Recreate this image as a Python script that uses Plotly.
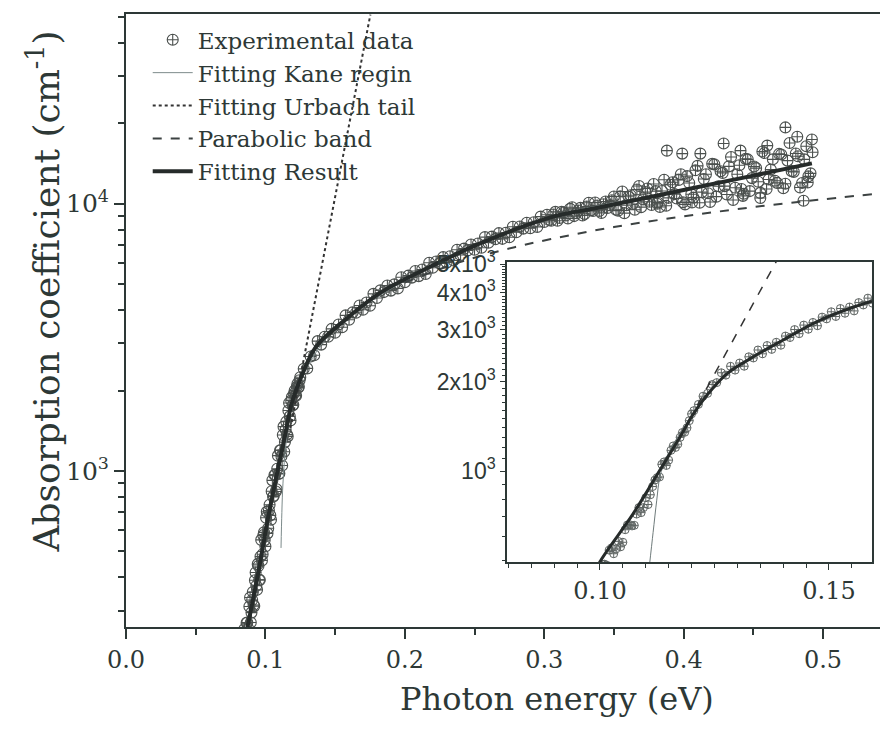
import plotly.graph_objects as go

# ---------------- main panel data ----------------
exp_energy_a = [0.085,0.086,0.087,0.088,0.089,0.090,0.091,0.092,0.093,0.094,0.095,0.096,0.097,0.098,0.099,0.100,
                0.101,0.102,0.103,0.104,0.105,0.106,0.107,0.108,0.109,0.110,0.111,0.112,0.113,0.114,0.115,0.116,
                0.117,0.118,0.119,0.120,0.121,0.122,0.123,0.124,0.125]
exp_alpha_a = [256,221,271,238,336,295,352,312,417,359,441,391,552,488,589,522,
               703,610,747,657,922,808,967,854,1141,979,1195,1048,1465,1282,1529,1347,
               1795,1545,1889,1769,2000,1911,2118,2064,2242]
exp_energy_b = [0.0855,0.0865,0.0875,0.0885,0.0895,0.0905,0.0915,0.0925,0.0935,0.0945,0.0955,0.0965,0.0975,0.0985,
                0.0995,0.1005,0.1015,0.1025,0.1035,0.1045,0.1055,0.1065,0.1075,0.1085,0.1095,0.1105,0.1115,0.1125,
                0.1135,0.1145,0.1155,0.1165,0.1175,0.1185,0.1195,0.1205,0.1215,0.1225,0.1235,0.1245]
exp_alpha_b = [219,270,258,311,271,329,315,390,372,448,391,478,462,575,
               551,668,584,711,682,840,801,965,838,1019,974,1194,1136,1363,
               1180,1430,1368,1683,1600,1835,1757,1949,1918,2063,2050,2185]
exp_energy_c = [0.1275,0.130,0.1325,0.135,0.1375,0.140,0.1425,0.145,0.1475,0.150,0.1525,0.155,0.1575,0.160,
                0.1625,0.165,0.1675,0.170,0.1725,0.175,0.1775,0.180,0.1825,0.185,0.1875,0.190,0.1925,0.195,
                0.1975,0.200,0.2025,0.205,0.2075,0.210,0.2125,0.215,0.2175,0.220,0.2225,0.225,0.2275,0.230,
                0.2325,0.235,0.2375,0.240,0.2425,0.245,0.2475,0.250,0.2525,0.255,0.2575,0.260,0.2625,0.265,
                0.2675,0.270,0.2725,0.275,0.2775,0.280,0.2825,0.285,0.2875,0.290,0.2925,0.295,0.2975,0.300]
exp_alpha_c = [2410,2420,2680,2710,3060,2970,3180,3180,3400,3290,3530,3450,3820,3680,
               3920,3910,4160,4010,4270,4150,4600,4440,4740,4670,4940,4730,4990,4820,
               5310,5080,5380,5290,5600,5360,5670,5460,6010,5760,6080,5980,6310,6020,
               6360,6130,6730,6430,6790,6680,7040,6730,7100,6840,7500,7150,7530,7370,
               7760,7390,7790,7490,8200,7820,8220,8070,8490,8090,8520,8190,8950,8540]
exp_energy_d = [0.302,0.305,0.308,0.311,0.314,0.317,0.320,0.323,0.326,0.329,0.332,0.335,0.338,0.341,0.344,0.347,
                0.350,0.353,0.356,0.359,0.362,0.365,0.368,0.371,0.374,0.377,0.380,0.383,0.386,0.389,0.392,0.395,
                0.398,0.401,0.404,0.407,0.410,0.413,0.416,0.419,0.422,0.425,0.428,0.431,0.434,0.437,0.440,0.443,
                0.446,0.449,0.452,0.455,0.458,0.461,0.464,0.467,0.470,0.473,0.476,0.479,0.482,0.485,0.488,0.491]
exp_alpha_d = [9090,8630,9320,8850,9280,8800,9700,9210,9650,9160,10080,9390,9850,9240,10190,9870,
               10640,9420,11110,9870,10760,9500,11650,10380,11400,9890,11150,9720,12290,10520,12040,10460,
               12890,9940,11950,10540,13860,11050,12890,10150,14040,11630,13040,10830,14950,11480,13930,10900,
               14650,12470,13590,10980,15480,12320,14660,11970,15280,11880,16870,13160,15050,11960,16400,12990]
exp_energy_e = [0.3035,0.3065,0.3095,0.3125,0.3155,0.3185,0.3215,0.3245,0.3275,0.3305,0.3335,0.3365,0.3395,0.3425,
                0.3455,0.3485,0.3515,0.3545,0.3575,0.3605,0.3635,0.3665,0.3695,0.3725,0.3755,0.3785,0.3815,0.3845,
                0.3875,0.3905,0.3935,0.3965,0.3995,0.4025,0.4055,0.4085,0.4115,0.4145,0.4175,0.4205,0.4235,0.4265,
                0.4295,0.4325,0.4355,0.4385,0.4415,0.4445,0.4475,0.4505,0.4535,0.4565,0.4595,0.4625,0.4655,0.4685,
                0.4715,0.4745,0.4775,0.4805,0.4835,0.4865,0.4895,0.4925]
exp_alpha_e = [8690,9110,8640,9330,9040,9570,8990,9430,9030,9760,9450,10100,9400,9960,
               9640,10310,9490,10660,9220,10620,9980,11300,9710,11050,10170,11850,10110,11160,
               9830,11770,10860,12280,10120,12690,10850,13340,10080,12380,10940,14100,10630,13230,
               11640,13800,10330,12890,11360,14720,11150,13790,12090,15680,11360,13420,12190,15360,
               11430,14500,13240,15410,11500,14660,12660,15590]
exp_energy_f = [0.388,0.399,0.412,0.4287,0.4408,0.460,0.473,0.4815,0.492,0.381,0.406,0.4425,0.455,0.486,0.489]
exp_alpha_f = [15800,15400,15400,16800,15800,16500,19300,17800,17400,10000,10100,10700,10500,10260,12000]

exp_energy = exp_energy_a + exp_energy_b + exp_energy_c + exp_energy_d + exp_energy_e + exp_energy_f
exp_alpha = exp_alpha_a + exp_alpha_b + exp_alpha_c + exp_alpha_d + exp_alpha_e + exp_alpha_f

fit_energy = [0.080,0.087,0.095,0.1015,0.1087,0.114,0.119,0.125,0.136,0.154,0.1826,0.22,0.254,0.304,0.34,0.40,0.45,0.492]
fit_alpha = [170,258,420,650,1000,1350,1800,2200,2900,3560,4650,5870,7100,8870,9700,11250,12740,14160]

kane_energy = [0.1112,0.1118,0.1126,0.115,0.120,0.130,0.150,0.200,0.300,0.400,0.490]
kane_alpha = [515,700,900,1300,1850,2450,3400,5150,8750,11250,14100]

urbach_energy = [0.118,0.1753]
urbach_alpha = [1450,51000]

parab_energy = [0.200,0.238,0.270,0.304,0.350,0.400,0.450,0.500,0.550]
parab_alpha = [5070,6010,6700,7360,8180,8970,9710,10390,11040]

# ---------------- inset data ----------------
ins_exp_energy = [0.1005,0.1015,0.1025,0.1035,0.1045,0.1055,0.1065,0.1075,0.1085,0.1095,0.1105,0.1115,0.1125,
                  0.1135,0.1145,0.1155,0.1165,0.1175,0.1185,0.1195,0.1205,0.1215,0.1225,0.1235,0.1245,0.1255,
                  0.1265,0.1275,0.1285,0.1295,0.1305,0.1315,0.1325,0.1335,0.1345,0.1355,0.1365,0.1375,0.1385,
                  0.1395,0.1405,0.1415,0.1425,0.1435,0.1445,0.1455,0.1465,0.1475,0.1485,0.1495,0.1505,0.1515,
                  0.1525,0.1535,0.1545,0.1555,0.1565,0.1575,0.1585,0.1595,
                  0.101,0.102,0.103,0.104,0.105,0.106,0.107,0.108,0.109,0.110,0.111,0.112,0.113,0.114,
                  0.115,0.116,0.117,0.118,0.119,0.120]
ins_exp_alpha = [484,481,550,546,555,634,659,656,753,753,771,887,951,
                 1054,1045,1175,1202,1300,1352,1480,1600,1680,1790,1830,1960,1990,
                 2148,2109,2259,2193,2317,2260,2432,2410,2564,2489,2655,2576,2723,
                 2661,2858,2825,3006,2911,3112,3013,3177,3097,3311,3266,3451,3327,
                 3540,3412,3581,3475,3707,3639,3837,3690,
                 485,541,526,579,575,658,653,716,724,813,832,933,955,1074,
                 1089,1216,1233,1350,1400,1560]

ins_fit_energy = [0.0995,0.100,0.1073,0.1131,0.1175,0.1204,0.1233,0.1277,0.1335,0.1400,0.1473,0.1546,0.1594]
ins_fit_alpha = [470,494,720,1008,1306,1560,1800,2130,2432,2772,3193,3548,3750]

ins_kane_energy = [0.1108,0.1116,0.1124,0.1131,0.1146,0.118,0.1233,0.1277,0.1335,0.1400,0.1473,0.1546,0.1594]
ins_kane_alpha = [480,620,798,957,1120,1380,1800,2130,2432,2772,3193,3548,3750]

ins_urbach_energy = [0.1175,0.1385]
ins_urbach_alpha = [1306,5100]

# ---------------- styling ----------------
INK = "#2d3836"
SERIF = "DejaVu Serif"
SANS = "Liberation Sans"

fig = go.Figure()

fig.add_trace(go.Scatter(x=exp_energy, y=exp_alpha, mode="markers", name="Experimental data",
                         marker=dict(symbol="circle-cross-open", size=11, color="#4b504e",
                                     line=dict(width=1.1, color="#4b504e")),
                         xaxis="x", yaxis="y"))
fig.add_trace(go.Scatter(x=kane_energy, y=kane_alpha, mode="lines", name="Fitting Kane regin",
                         line=dict(color="#7d8b8b", width=1), line_shape="spline", xaxis="x", yaxis="y"))
fig.add_trace(go.Scatter(x=urbach_energy, y=urbach_alpha, mode="lines", name="Fitting Urbach tail",
                         line=dict(color="#333", width=2, dash="dot"), xaxis="x", yaxis="y"))
fig.add_trace(go.Scatter(x=parab_energy, y=parab_alpha, mode="lines", name="Parabolic band",
                         line=dict(color="#3c4242", width=2, dash="dash"), line_shape="spline",
                         xaxis="x", yaxis="y"))
fig.add_trace(go.Scatter(x=fit_energy, y=fit_alpha, mode="lines", name="Fitting Result",
                         line=dict(color="#262b2a", width=4), line_shape="spline", xaxis="x", yaxis="y"))

# inset traces
fig.add_trace(go.Scatter(x=ins_exp_energy, y=ins_exp_alpha, mode="markers", showlegend=False,
                         marker=dict(symbol="circle-cross-open", size=8, color="#5e6462",
                                     line=dict(width=1, color="#5e6462")),
                         xaxis="x2", yaxis="y2"))
fig.add_trace(go.Scatter(x=ins_kane_energy, y=ins_kane_alpha, mode="lines", showlegend=False,
                         line=dict(color="#6f7b7b", width=1), line_shape="spline", xaxis="x2", yaxis="y2"))
fig.add_trace(go.Scatter(x=ins_urbach_energy, y=ins_urbach_alpha, mode="lines", showlegend=False,
                         line=dict(color="#333", width=1.5, dash="dash"), xaxis="x2", yaxis="y2"))
fig.add_trace(go.Scatter(x=ins_fit_energy, y=ins_fit_alpha, mode="lines", showlegend=False,
                         line=dict(color="#262b2a", width=3), line_shape="spline", xaxis="x2", yaxis="y2"))

main_minor_y = [300, 400, 500, 600, 700, 800, 900, 2000, 3000, 4000, 5000, 6000, 7000, 8000, 9000,
                20000, 30000, 40000, 50000]
inset_major_y = [1000, 2000, 3000, 4000, 5000]
inset_major_text = ["10<sup>3</sup>", "2x10<sup>3</sup>", "3x10<sup>3</sup>", "4x10<sup>3</sup>", "5x10<sup>3</sup>"]
inset_minor_y = [v for v in range(500, 5500, 100) if v % 1000 != 0]

# the page body adds an 8 px offset, so the figure is 880x723 with margins shifted accordingly
fig.update_layout(
    width=880, height=723,
    margin=dict(l=118, r=0, t=6, b=104, autoexpand=False),
    paper_bgcolor="white", plot_bgcolor="white",
    font=dict(family=SERIF, color=INK),
    xaxis=dict(domain=[0, 1], range=[0, 0.5466], automargin=False, showline=True, linecolor=INK, linewidth=2,
               mirror=True, showgrid=False, zeroline=False, ticks="outside", ticklen=10, tickwidth=1.5,
               tickcolor=INK, tickvals=[0, 0.1, 0.2, 0.3, 0.4, 0.5],
               ticktext=["0.0", "0.1", "0.2", "0.3", "0.4", "0.5"],
               tickfont=dict(family=SERIF, size=24, color=INK),
               minor=dict(ticks="outside", ticklen=6, tickwidth=1.5, tickcolor=INK, dtick=0.05, tick0=0)),
    yaxis=dict(domain=[0, 1], type="log", range=[2.416, 4.710], automargin=False, showline=True, linecolor=INK,
               linewidth=2, showgrid=False, zeroline=False, ticks="outside", ticklen=10, tickwidth=1.5,
               tickcolor=INK, tickvals=[1000, 10000], ticktext=["10<sup>3</sup>", "10<sup>4</sup>"],
               tickfont=dict(family=SERIF, size=25, color=INK),
               minor=dict(ticks="outside", ticklen=6, tickwidth=1.5, tickcolor=INK, tickmode="array",
                          tickvals=main_minor_y)),
    xaxis2=dict(domain=[0.500, 0.979], anchor="y2", range=[0.0797, 0.1594], automargin=False, showline=True,
                linecolor=INK, linewidth=1.5, mirror=True, showgrid=False, zeroline=False, ticks="outside",
                ticklen=6, tickwidth=1, tickcolor=INK, tickvals=[0.10, 0.15], ticktext=["0.10", "0.15"],
                tickfont=dict(family=SERIF, size=24, color=INK),
                minor=dict(ticks="outside", ticklen=4, tickwidth=1, tickcolor=INK, dtick=0.005, tick0=0.1)),
    yaxis2=dict(domain=[0.106, 0.5954], anchor="x2", type="log", range=[2.693, 3.706], automargin=False,
                showline=True, linecolor=INK, linewidth=1.5, mirror=True, showgrid=False, zeroline=False,
                ticks="outside", ticklen=5, tickwidth=1, tickcolor=INK, tickvals=inset_major_y,
                ticktext=inset_major_text, tickfont=dict(family=SANS, size=23, color=INK),
                minor=dict(ticks="outside", ticklen=3, tickwidth=1, tickcolor=INK, tickmode="array",
                           tickvals=inset_minor_y)),
    legend=dict(x=0.0285, y=0.993, xanchor="left", yanchor="top", bgcolor="rgba(0,0,0,0)",
                font=dict(family=SERIF, size=23, color=INK), itemwidth=40, tracegroupgap=0),
    showlegend=True,
    annotations=[
        dict(text="Photon energy (eV)", xref="paper", yref="paper", x=0.5656, y=-0.118,
             xanchor="center", yanchor="middle", showarrow=False,
             font=dict(family=SERIF, size=32, color=INK)),
        dict(text="Absorption coefficient (cm<sup>-1</sup>)", xref="paper", yref="paper", x=-0.107, y=0.548,
             xanchor="center", yanchor="middle", textangle=-90, showarrow=False,
             font=dict(family=SERIF, size=36, color=INK)),
    ],
)

fig.write_html("out.html")
